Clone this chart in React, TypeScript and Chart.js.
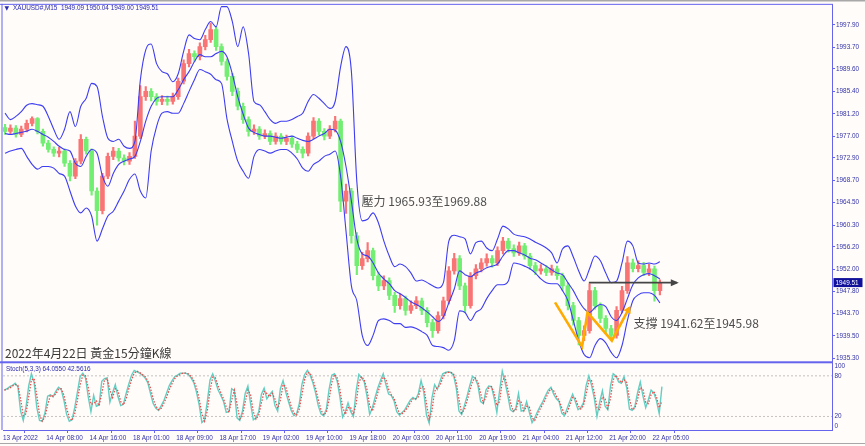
import React, { useEffect, useRef } from "react";
import { Chart, registerables } from "chart.js";

Chart.register(...registerables);

// ---------------- data ----------------
// x axis unit: one 15-minute bar. Candles are hourly (4 bars), stochastic sampled every 2 bars.
const xTickBars = [0, 32, 64, 96, 128, 160, 192, 224, 256, 288, 320, 352, 384, 416, 448, 480];
const xTickLabels = [
  "13 Apr 2022", "14 Apr 08:00", "14 Apr 16:00", "18 Apr 01:00", "18 Apr 09:00", "18 Apr 17:00",
  "19 Apr 02:00", "19 Apr 10:00", "19 Apr 18:00", "20 Apr 03:00", "20 Apr 11:00", "20 Apr 19:00",
  "21 Apr 04:00", "21 Apr 12:00", "21 Apr 20:00", "22 Apr 05:00",
];
const priceTicks = [
  1935.3, 1939.5, 1943.7, 1947.8, 1952.0, 1956.2, 1960.3, 1964.5, 1968.7, 1972.9, 1977.0, 1981.2,
  1985.4, 1989.6, 1993.7, 1997.9,
];
const stochTicks = [0, 20, 80, 100];
const stochLevels = [20, 80];

const candleOpen = [
  1978.6, 1977.9, 1978.5, 1977.3, 1978.3, 1979.4, 1980.3, 1977.9, 1975.7, 1974.5,
  1973.8, 1974.2, 1971.9, 1969.5, 1972.3, 1976.4, 1974.2, 1966.7, 1963.0, 1969.5,
  1973.2, 1974.2, 1972.9, 1972.3, 1973.2, 1977.0, 1984.4, 1985.4, 1984.4, 1983.5,
  1983.9, 1983.5, 1984.4, 1987.3, 1990.6, 1992.5, 1991.9, 1993.8, 1995.1, 1997.0,
  1993.8, 1991.0, 1988.2, 1985.4, 1982.6, 1980.1, 1977.9, 1978.3, 1977.0, 1977.5,
  1976.0, 1977.0, 1976.0, 1976.6, 1975.5, 1974.5, 1973.8, 1977.0, 1979.8, 1977.9,
  1977.0, 1978.3, 1979.8, 1964.8, 1966.7, 1958.3, 1952.7, 1954.0, 1955.5, 1950.8,
  1948.9, 1949.9, 1947.1, 1945.2, 1946.5, 1944.3, 1945.2, 1946.1, 1944.3, 1942.0,
  1940.5, 1943.3, 1946.1, 1951.7, 1954.0, 1948.9, 1945.2, 1950.8, 1952.1, 1953.2,
  1954.0, 1953.2, 1955.5, 1957.3, 1955.9, 1955.1, 1956.4, 1954.5, 1952.7, 1951.7,
  1952.1, 1951.4, 1952.1, 1950.8, 1948.9, 1945.2, 1942.4, 1939.6, 1940.5, 1948.0,
  1945.2, 1942.8, 1940.9, 1939.6, 1944.3, 1948.0, 1953.2, 1952.1, 1952.7, 1951.4,
  1952.1, 1948.0,
];
const candleHigh = [
  1979.2, 1979.1, 1979.0, 1978.9, 1980.0, 1980.6, 1980.5, 1978.3, 1976.2, 1975.0,
  1974.9, 1974.6, 1972.4, 1972.8, 1977.3, 1976.8, 1974.6, 1967.3, 1970.0, 1973.8,
  1974.9, 1974.7, 1973.5, 1973.9, 1979.8, 1986.5, 1986.3, 1985.9, 1985.0, 1984.6,
  1984.5, 1985.1, 1987.9, 1991.3, 1993.3, 1993.0, 1994.5, 1995.9, 1998.2, 1997.5,
  1994.3, 1991.5, 1988.8, 1986.0, 1983.2, 1980.6, 1979.1, 1978.8, 1978.2, 1978.0,
  1977.6, 1977.5, 1977.2, 1977.0, 1976.0, 1975.0, 1977.6, 1980.5, 1980.3, 1978.4,
  1979.0, 1980.7, 1980.2, 1968.0, 1967.2, 1958.9, 1955.2, 1957.0, 1956.0, 1951.5,
  1950.8, 1950.4, 1947.7, 1947.4, 1947.0, 1946.1, 1946.9, 1946.6, 1944.8, 1942.6,
  1944.0, 1946.8, 1952.5, 1955.0, 1954.6, 1949.4, 1951.4, 1952.9, 1954.0, 1954.9,
  1954.6, 1956.2, 1958.0, 1957.8, 1956.6, 1957.1, 1956.9, 1955.0, 1953.3, 1952.9,
  1952.7, 1952.8, 1952.6, 1951.3, 1949.4, 1945.8, 1943.0, 1941.4, 1949.3, 1948.6,
  1945.7, 1943.3, 1941.5, 1945.0, 1948.8, 1954.4, 1953.9, 1953.6, 1953.3, 1953.0,
  1952.6, 1950.04,
];
const candleLow = [
  1977.3, 1977.4, 1976.8, 1976.9, 1977.8, 1978.9, 1977.4, 1975.1, 1974.0, 1973.2,
  1973.1, 1971.3, 1968.6, 1969.0, 1971.8, 1973.6, 1965.9, 1960.3, 1962.4, 1969.0,
  1972.6, 1972.3, 1971.6, 1971.7, 1972.8, 1976.5, 1983.7, 1983.6, 1982.8, 1982.9,
  1982.8, 1983.0, 1983.9, 1986.8, 1990.0, 1991.0, 1991.3, 1993.2, 1994.6, 1993.1,
  1990.3, 1987.5, 1984.6, 1981.9, 1979.4, 1977.0, 1977.3, 1976.4, 1976.5, 1975.4,
  1975.5, 1975.5, 1975.4, 1974.9, 1973.9, 1972.9, 1973.3, 1976.5, 1977.2, 1976.3,
  1976.5, 1977.8, 1962.8, 1962.5, 1956.9, 1951.0, 1952.0, 1953.4, 1950.0, 1948.0,
  1948.2, 1946.3, 1943.9, 1944.5, 1943.4, 1943.7, 1944.6, 1943.5, 1941.2, 1939.2,
  1940.0, 1942.7, 1945.5, 1951.1, 1948.2, 1943.9, 1944.7, 1950.2, 1951.5, 1952.6,
  1952.4, 1952.7, 1954.9, 1955.2, 1954.4, 1954.6, 1953.9, 1952.0, 1951.0, 1951.1,
  1950.8, 1950.9, 1950.1, 1948.1, 1944.4, 1941.5, 1937.8, 1938.6, 1940.0, 1944.5,
  1942.0, 1940.1, 1938.6, 1939.1, 1943.8, 1947.5, 1951.5, 1951.5, 1950.8, 1950.8,
  1946.0, 1947.2,
];
const candleClose = [
  1977.9, 1978.5, 1977.3, 1978.3, 1979.4, 1980.3, 1977.9, 1975.7, 1974.5, 1973.8,
  1974.2, 1971.9, 1969.5, 1972.3, 1976.4, 1974.2, 1966.7, 1963.0, 1969.5, 1973.2,
  1974.2, 1972.9, 1972.3, 1973.2, 1977.0, 1984.4, 1985.4, 1984.4, 1983.5, 1983.9,
  1983.5, 1984.4, 1987.3, 1990.6, 1992.5, 1991.9, 1993.8, 1995.1, 1997.0, 1993.8,
  1991.0, 1988.2, 1985.4, 1982.6, 1980.1, 1977.9, 1978.3, 1977.0, 1977.5, 1976.0,
  1977.0, 1976.0, 1976.6, 1975.5, 1974.5, 1973.8, 1977.0, 1979.8, 1977.9, 1977.0,
  1978.3, 1979.8, 1964.8, 1966.7, 1958.3, 1952.7, 1954.0, 1955.5, 1950.8, 1948.9,
  1949.9, 1947.1, 1945.2, 1946.5, 1944.3, 1945.2, 1946.1, 1944.3, 1942.0, 1940.5,
  1943.3, 1946.1, 1951.7, 1954.0, 1948.9, 1945.2, 1950.8, 1952.1, 1953.2, 1954.0,
  1953.2, 1955.5, 1957.3, 1955.9, 1955.1, 1956.4, 1954.5, 1952.7, 1951.7, 1952.1,
  1951.4, 1952.1, 1950.8, 1948.9, 1945.2, 1942.4, 1939.6, 1940.5, 1948.0, 1945.2,
  1942.8, 1940.9, 1939.6, 1944.3, 1948.0, 1953.2, 1952.1, 1952.7, 1951.4, 1952.1,
  1948.0, 1949.51,
];

const bbUpper = [
  1981.3, 1980.1, 1980.7, 1981.6, 1982.8, 1983.1, 1982.9, 1982.6, 1980.7, 1978.3,
  1976.4, 1978.3, 1981.6, 1978.8, 1982.6, 1984.1, 1986.9, 1986.3, 1980.7, 1976.6,
  1976.0, 1976.4, 1975.1, 1974.7, 1976.0, 1987.5, 1993.2, 1994.3, 1990.6, 1989.1,
  1988.7, 1987.2, 1988.7, 1992.9, 1996.0, 1995.3, 1995.1, 1997.0, 1998.5, 1997.5,
  2001.3, 2001.3, 1998.5, 1993.8, 1997.5, 1992.5, 1983.5, 1982.9, 1981.6, 1980.1,
  1979.4, 1979.8, 1979.8, 1980.1, 1980.7, 1981.3, 1983.5, 1984.8, 1984.1, 1983.1,
  1982.2, 1983.5, 1990.0, 1993.8, 1989.1, 1968.5, 1961.1, 1961.4, 1962.6, 1960.7,
  1957.3, 1954.5, 1952.5, 1953.0, 1952.5, 1951.3, 1949.8, 1950.0, 1949.5, 1948.9,
  1948.5, 1949.5, 1957.3, 1958.4, 1958.1, 1957.7, 1954.9, 1957.0, 1957.3, 1956.0,
  1955.5, 1957.7, 1960.1, 1959.6, 1958.6, 1958.3, 1958.1, 1957.7, 1957.1, 1956.6,
  1956.0, 1955.1, 1953.2, 1955.8, 1956.4, 1954.3, 1951.7, 1949.8, 1952.1, 1954.5,
  1953.6, 1951.3, 1949.5, 1949.8, 1953.2, 1957.3, 1956.4, 1953.2, 1953.0, 1953.2,
  1953.0, 1953.4,
];
const bbMiddle = [
  1977.5, 1977.3, 1977.5, 1977.7, 1977.9, 1978.3, 1977.9, 1977.3, 1976.8, 1976.0,
  1975.1, 1974.5, 1974.2, 1971.9, 1971.3, 1973.2, 1974.5, 1973.8, 1969.5, 1967.6,
  1970.0, 1971.7, 1972.3, 1972.7, 1973.2, 1976.0, 1979.8, 1982.6, 1984.1, 1984.4,
  1984.4, 1984.4, 1985.7, 1987.6, 1989.1, 1991.0, 1992.3, 1991.9, 1991.9, 1992.5,
  1992.9, 1991.9, 1988.7, 1984.4, 1981.1, 1978.5, 1977.7, 1977.3, 1977.0, 1977.0,
  1976.8, 1976.6, 1976.8, 1977.0, 1976.6, 1976.2, 1976.0, 1976.4, 1977.0, 1977.5,
  1978.3, 1978.1, 1976.0, 1971.3, 1964.8, 1957.7, 1954.9, 1954.5, 1953.2, 1951.3,
  1950.2, 1949.3, 1948.0, 1947.4, 1946.7, 1945.9, 1945.4, 1944.8, 1944.0, 1943.1,
  1942.2, 1943.1, 1945.7, 1948.3, 1951.7, 1951.0, 1950.6, 1951.3, 1951.7, 1952.3,
  1952.6, 1953.0, 1954.5, 1955.5, 1955.5, 1955.1, 1954.7, 1954.1, 1953.8, 1953.2,
  1952.6, 1951.9, 1951.3, 1951.0, 1949.5, 1948.0, 1946.1, 1944.6, 1943.9, 1944.8,
  1945.4, 1945.0, 1943.1, 1942.4, 1943.9, 1946.5, 1949.1, 1950.4, 1951.0, 1951.2,
  1950.8, 1950.2,
];
const bbLower = [
  1973.8, 1974.2, 1974.5, 1974.7, 1973.2, 1971.7, 1970.8, 1971.3, 1971.3, 1971.0,
  1970.0, 1969.5, 1966.7, 1963.9, 1962.6, 1963.5, 1962.0, 1957.3, 1959.6, 1962.0,
  1962.9, 1964.8, 1966.7, 1968.9, 1969.9, 1966.7, 1965.4, 1974.2, 1978.8, 1981.3,
  1981.6, 1981.3, 1981.3, 1983.1, 1985.4, 1987.6, 1989.5, 1989.1, 1988.6, 1987.6,
  1986.9, 1980.3, 1976.0, 1972.3, 1970.4, 1969.1, 1973.2, 1974.5, 1974.2, 1973.8,
  1974.2, 1974.5, 1974.5, 1973.8, 1972.7, 1971.0, 1970.4, 1971.7, 1972.3, 1973.2,
  1973.6, 1974.2, 1969.5, 1959.2, 1948.9, 1946.1, 1939.6, 1937.7, 1939.6, 1942.4,
  1942.7, 1942.4, 1941.8, 1941.8, 1941.1, 1941.2, 1940.9, 1940.3, 1939.6, 1937.7,
  1937.5, 1937.3, 1936.8, 1938.6, 1944.2, 1943.9, 1942.4, 1943.9, 1944.6, 1946.5,
  1948.0, 1949.1, 1949.1, 1949.8, 1953.2, 1953.0, 1952.6, 1952.1, 1951.3, 1950.2,
  1949.5, 1949.3, 1949.3, 1948.0, 1946.1, 1942.4, 1938.6, 1936.0, 1935.4, 1937.7,
  1939.0, 1938.2, 1936.4, 1935.4, 1937.7, 1942.4, 1946.1, 1947.2, 1947.6, 1947.6,
  1947.1, 1945.7,
];

const stochK = [
  59, 61, 64, 66, 69, 64, 28, 14, 34, 65,
  83, 70, 33, 14, 13, 25, 50, 52, 49, 57,
  63, 60, 44, 23, 13, 15, 33, 56, 79, 84,
  77, 49, 27, 51, 35, 37, 72, 76, 77, 41,
  55, 67, 49, 36, 38, 54, 68, 81, 88, 86,
  84, 81, 77, 70, 54, 39, 32, 29, 36, 44,
  55, 66, 73, 79, 81, 84, 84, 84, 82, 77,
  70, 56, 37, 11, 15, 42, 74, 83, 72, 59,
  51, 42, 26, 27, 61, 58, 18, 14, 28, 54,
  65, 39, 15, 18, 27, 53, 62, 46, 52, 57,
  36, 28, 61, 73, 56, 42, 29, 21, 24, 39,
  68, 82, 88, 81, 70, 55, 36, 24, 21, 31,
  60, 81, 83, 72, 49, 19, 27, 40, 27, 20,
  58, 82, 77, 71, 50, 23, 33, 48, 62, 73,
  83, 67, 53, 51, 43, 27, 22, 26, 30, 37,
  44, 48, 45, 54, 73, 56, 22, 10, 47, 67,
  60, 72, 83, 85, 86, 85, 81, 62, 28, 23,
  36, 50, 66, 79, 76, 66, 42, 39, 59, 65,
  64, 47, 26, 58, 87, 71, 52, 30, 27, 32,
  54, 28, 29, 42, 26, 11, 18, 27, 35, 42,
  51, 59, 63, 53, 46, 42, 25, 21, 32, 43,
  53, 42, 30, 33, 40, 66, 80, 66, 47, 20,
  41, 58, 35, 30, 65, 83, 80, 71, 69, 79,
  62, 31, 29, 35, 55, 71, 50, 33, 45, 59,
  55, 43, 24, 64.06,
];
const stochD = [
  59, 60, 62, 65, 67, 66, 46, 21, 24, 49,
  74, 76, 51, 23, 13, 19, 37, 51, 50, 53,
  60, 61, 52, 33, 18, 14, 24, 44, 67, 81,
  80, 63, 38, 39, 43, 36, 54, 74, 76, 59,
  48, 61, 58, 42, 37, 46, 61, 74, 84, 87,
  85, 82, 79, 73, 62, 46, 35, 30, 32, 40,
  49, 60, 69, 76, 80, 82, 84, 84, 83, 79,
  73, 63, 46, 24, 13, 28, 58, 78, 77, 65,
  55, 46, 34, 26, 44, 59, 38, 16, 21, 41,
  59, 52, 27, 16, 22, 40, 57, 54, 49, 54,
  46, 32, 44, 67, 64, 49, 35, 25, 22, 31,
  53, 75, 85, 84, 75, 62, 45, 30, 22, 26,
  45, 70, 82, 77, 60, 34, 23, 33, 33, 23,
  39, 70, 79, 74, 60, 36, 28, 40, 55, 67,
  78, 75, 60, 52, 47, 35, 24, 24, 28, 33,
  40, 46, 46, 49, 63, 64, 39, 16, 28, 57,
  63, 66, 77, 84, 85, 85, 83, 71, 45, 25,
  30, 43, 58, 72, 77, 71, 54, 40, 49, 62,
  64, 55, 36, 42, 72, 79, 61, 41, 28, 29,
  43, 41, 28, 35, 34, 18, 14, 22, 31, 38,
  46, 55, 61, 58, 50, 44, 33, 23, 26, 37,
  48, 47, 36, 31, 36, 53, 73, 73, 56, 33,
  30, 49, 46, 32, 47, 74, 81, 75, 70, 74,
  70, 46, 30, 32, 45, 63, 60, 41, 39, 52,
  57, 49, 33, 42.56,
];

const lastPrice = 1949.51;
const headerText = "XAUUSD#,M15  1949.09 1950.04 1949.00 1949.51";
const stochText = "Stoch(5,3,3) 64.0550 42.5616";
const titleText = "2022年4月22日 黃金15分鐘K線";
const resistanceText = "壓力 1965.93至1969.88";
const supportText = "支撐 1941.62至1945.98";
const resistanceAt = [265, 1964.8]; // [bar, price]
const supportAt = [466, 1941.8];
const arrowBars = [433, 498];
const arrowPrices = [1949.5, 1949.5];
const wBars = [408, 428, 432, 450, 463];
const wPrices = [1945.8, 1937.5, 1943.9, 1938.6, 1944.8];

// ---------------- styling ----------------
const X_MIN = 0;
const X_MAX = 612.7;
const Y_MIN = 1934.55;
const Y_MAX = 2001.64;
const BG = "#fffcfa";
const FRAME = "#6464ee";
const AXIS_TEXT = "#3232a8";
const BAND = "#3d3df2";
const UP = "#f97474";
const DOWN = "#72ee72";
const AX_FONT = { family: '"Liberation Sans", Arial, sans-serif', size: 6.4 };
const CJK_FONT = '12px "Noto Sans CJK TC", "Noto Sans", sans-serif';

const candleX = (i: number) => i * 4 + 1.5;
const stochX = (j: number) => j * 2 + 1;

const W_DS = 5;
const ARROW_DS = 6;

const decorPlugin = {
  id: "mt4Decor",
  beforeDraw(chart: any) {
    const { ctx, width, height } = chart;
    ctx.save();
    ctx.fillStyle = BG;
    ctx.fillRect(0, 0, width, height);
    ctx.restore();
  },
  afterDatasetsDraw(chart: any) {
    const ctx = chart.ctx;
    const heads: [number, string, number, number][] = [
      [W_DS, "#ffab00", 7, 4],
      [ARROW_DS, "#454545", 8, 3.5],
    ];
    for (const [idx, color, len, half] of heads) {
      const pts = chart.getDatasetMeta(idx).data;
      if (pts.length < 2) continue;
      const a = pts[pts.length - 2];
      const b = pts[pts.length - 1];
      const ang = Math.atan2(b.y - a.y, b.x - a.x);
      const tipX = b.x + Math.cos(ang) * 2;
      const tipY = b.y + Math.sin(ang) * 2;
      const bx = tipX - Math.cos(ang) * len;
      const by = tipY - Math.sin(ang) * len;
      ctx.save();
      ctx.fillStyle = color;
      ctx.beginPath();
      ctx.moveTo(tipX, tipY);
      ctx.lineTo(bx + Math.sin(ang) * half, by - Math.cos(ang) * half);
      ctx.lineTo(bx - Math.sin(ang) * half, by + Math.cos(ang) * half);
      ctx.closePath();
      ctx.fill();
      ctx.restore();
    }
  },
  afterDraw(chart: any) {
    const { ctx, chartArea } = chart;
    const ys = chart.scales.y;
    const ss = chart.scales.ys;
    const xs = chart.scales.x;
    ctx.save();
    // frame
    ctx.fillStyle = "#a8a8a8";
    ctx.fillRect(0, 0, chart.width, 1.5);
    ctx.fillRect(0, 443, chart.width, 1);
    ctx.fillStyle = FRAME;
    ctx.fillRect(0, chartArea.top - 1, chartArea.right + 1, 1);
    ctx.fillRect(chartArea.left - 1.5, chartArea.top - 1, 1, chartArea.bottom - chartArea.top + 1);
    ctx.fillRect(0, ys.bottom - 1, chartArea.right + 1, 2);

    // header texts
    ctx.textBaseline = "middle";
    ctx.textAlign = "left";
    ctx.fillStyle = "#2a2ab0";
    ctx.font = '6px "DejaVu Sans", sans-serif';
    ctx.fillText("▼", 4.5, 8);
    ctx.font = `${AX_FONT.size}px ${AX_FONT.family}`;
    ctx.fillText(headerText, 13, 8);
    ctx.fillText(stochText, 6, ss.top + 6.5);

    // stochastic axis labels
    ctx.fillStyle = AXIS_TEXT;
    for (const v of stochTicks) {
      let py = ss.getPixelForValue(v);
      if (v === 100) py += 4;
      if (v === 0) py -= 4;
      ctx.fillText(String(v), chartArea.right + 2.5, py);
    }

    // current price label
    const py = ys.getPixelForValue(lastPrice);
    ctx.fillStyle = "#10109a";
    ctx.fillRect(chartArea.right + 1.5, py - 4.5, 29, 9);
    ctx.fillStyle = "#ffffff";
    ctx.fillText(lastPrice.toFixed(2), chartArea.right + 3.5, py + 0.3);

    // annotations
    ctx.font = CJK_FONT;
    ctx.fillStyle = "#4d4d4d";
    ctx.fillText(resistanceText, xs.getPixelForValue(resistanceAt[0]), ys.getPixelForValue(resistanceAt[1]));
    ctx.fillText(supportText, xs.getPixelForValue(supportAt[0]), ys.getPixelForValue(supportAt[1]));
    ctx.fillStyle = "#383838";
    ctx.fillText(titleText, chartArea.left + 2, ys.bottom - 9);
    ctx.restore();
  },
};

export default function App() {
  const ref = useRef<HTMLCanvasElement | null>(null);

  useEffect(() => {
    const canvas = ref.current;
    if (!canvas) return;
    const colors = candleClose.map((c, i) => (c >= candleOpen[i] ? UP : DOWN));
    const bandDs = (label: string, arr: number[]) => ({
      type: "line",
      label,
      data: arr.map((v, i) => ({ x: candleX(i), y: v })),
      yAxisID: "y",
      borderColor: BAND,
      borderWidth: 1.1,
      pointRadius: 0,
      cubicInterpolationMode: "monotone",
      order: 1,
    });
    const chart = new Chart(canvas, {
      type: "bar",
      data: {
        datasets: [
          bandDs("BB upper", bbUpper),
          bandDs("BB middle", bbMiddle),
          bandDs("BB lower", bbLower),
          {
            type: "bar",
            label: "body",
            data: candleOpen.map((o, i) => ({ x: candleX(i), y: [o, candleClose[i]] })),
            backgroundColor: colors,
            barThickness: 4,
            grouped: false,
            yAxisID: "y",
            order: 2,
          },
          {
            type: "bar",
            label: "wick",
            data: candleLow.map((l, i) => ({ x: candleX(i), y: [l, candleHigh[i]] })),
            backgroundColor: colors,
            barThickness: 1.5,
            grouped: false,
            yAxisID: "y",
            order: 3,
          },
          {
            type: "line",
            label: "W",
            data: wBars.map((b, i) => ({ x: b, y: wPrices[i] })),
            yAxisID: "y",
            borderColor: "#ffab00",
            borderWidth: 2.6,
            pointRadius: 0,
            tension: 0,
            order: 0,
          },
          {
            type: "line",
            label: "arrow",
            data: arrowBars.map((b, i) => ({ x: b, y: arrowPrices[i] })),
            yAxisID: "y",
            borderColor: "#454545",
            borderWidth: 1.6,
            pointRadius: 0,
            order: 0,
          },
          {
            type: "line",
            label: "%K",
            data: stochK.map((v, j) => ({ x: stochX(j), y: v })),
            yAxisID: "ys",
            borderColor: "#62cfc2",
            borderWidth: 1.4,
            pointRadius: 0,
            tension: 0,
            order: 1,
          },
          {
            type: "line",
            label: "%D",
            data: stochD.map((v, j) => ({ x: stochX(j), y: v })),
            yAxisID: "ys",
            borderColor: "#f04646",
            borderWidth: 1.2,
            borderDash: [1.5, 1.5],
            pointRadius: 0,
            tension: 0,
            order: 0,
          },
          ...stochLevels.map((lv) => ({
            type: "line",
            label: "level " + lv,
            data: [
              { x: X_MIN, y: lv },
              { x: X_MAX, y: lv },
            ],
            yAxisID: "ys",
            borderColor: "#c4c4c4",
            borderWidth: 1,
            borderDash: [2, 2],
            pointRadius: 0,
            order: 10,
          })),
        ],
      },
      options: {
        responsive: false,
        animation: false,
        devicePixelRatio: 1,
        events: [],
        layout: { padding: { left: 3, top: 3, right: 0, bottom: 0 } },
        plugins: { legend: { display: false }, tooltip: { enabled: false }, title: { display: false } },
        scales: {
          x: {
            type: "linear",
            position: "bottom",
            min: X_MIN,
            max: X_MAX,
            offset: false,
            afterBuildTicks: (s: any) => {
              s.ticks = xTickBars.map((v) => ({ value: v }));
            },
            afterFit: (s: any) => {
              s.height = 16;
            },
            ticks: {
              autoSkip: false,
              maxRotation: 0,
              minRotation: 0,
              align: "start",
              padding: 1,
              color: AXIS_TEXT,
              font: AX_FONT,
              callback: (_v: any, i: number) => xTickLabels[i] ?? "",
            },
            grid: { drawOnChartArea: false, drawTicks: true, tickLength: 3, color: FRAME },
            border: { display: true, color: FRAME, width: 1 },
          },
          y: {
            type: "linear",
            position: "right",
            stack: "right",
            stackWeight: 359,
            min: Y_MIN,
            max: Y_MAX,
            afterBuildTicks: (s: any) => {
              s.ticks = priceTicks.map((v) => ({ value: v }));
            },
            afterFit: (s: any) => {
              s.width = 33;
            },
            ticks: {
              autoSkip: false,
              padding: 1,
              color: AXIS_TEXT,
              font: AX_FONT,
              callback: (v: any) => Number(v).toFixed(2),
            },
            grid: { drawOnChartArea: false, drawTicks: true, tickLength: 3, color: FRAME },
            border: { display: true, color: FRAME, width: 1 },
          },
          ys: {
            type: "linear",
            position: "right",
            stack: "right",
            stackWeight: 68,
            min: 0,
            max: 100,
            afterBuildTicks: (s: any) => {
              s.ticks = stochTicks.map((v) => ({ value: v }));
            },
            afterFit: (s: any) => {
              s.width = 33;
            },
            ticks: { display: false },
            grid: { drawOnChartArea: false, drawTicks: false },
            border: { display: true, color: FRAME, width: 1 },
          },
        },
      } as any,
      plugins: [decorPlugin],
    } as any);
    return () => chart.destroy();
  }, []);

  return (
    <div style={{ position: "absolute", left: 0, top: 0, width: 865, height: 446, background: BG }}>
      <canvas ref={ref} width={865} height={446} style={{ display: "block", width: 865, height: 446 }} />
    </div>
  );
}
